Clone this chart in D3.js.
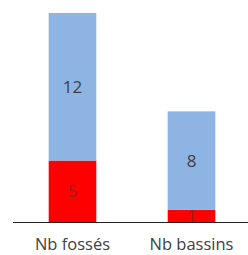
<!DOCTYPE html>
<html>
<head>
<script src="https://d3js.org/d3.v7.min.js"></script>
<style>
  body {margin: 0; background: #fff;}
  svg {display: block;}
  .axis .domain {display: none;}
</style>
</head>
<body>
<svg id="chart" width="248" height="255"></svg>
<script>
// data
var categories = ["Nb fossés", "Nb bassins"];
var redValues = [5, 1];
var blueValues = [12, 8];
var seriesColors = ["#ff0000", "#8eb4e3"];

var svg = d3.select("#chart"),
    margin = {top: 13, right: 0, bottom: 33, left: 13},
    width = +svg.attr("width") - margin.left - margin.right,
    height = +svg.attr("height") - margin.top - margin.bottom,
    g = svg.append("g").attr("transform", "translate(" + margin.left + "," + margin.top + ")");

var data = categories.map(function(c, i) {
  return {cat: c, red: redValues[i], blue: blueValues[i]};
});

var x = d3.scaleBand()
    .domain(categories)
    .range([0, 238])
    .paddingInner(0.6)
    .paddingOuter(0.3);

var y = d3.scaleLinear()
    .domain([0, 17])
    .range([height, 0]);

var stack = d3.stack().keys(["red", "blue"]);
var series = stack(data);

var layer = g.selectAll(".layer")
    .data(series)
    .enter().append("g")
    .attr("class", "layer")
    .attr("fill", function(d, i) { return seriesColors[i]; });

layer.selectAll("rect")
    .data(function(d) { return d; })
    .enter().append("rect")
    .attr("x", function(d) { return x(d.data.cat); })
    .attr("y", function(d) { return y(d[1]); })
    .attr("width", x.bandwidth())
    .attr("height", function(d) { return y(d[0]) - y(d[1]); });

// value labels
layer.each(function(s, si) {
  d3.select(this).selectAll("text")
    .data(s)
    .enter().append("text")
    .attr("x", function(d) { return x(d.data.cat) + x.bandwidth() / 2; })
    .attr("y", function(d) { return (y(d[0]) + y(d[1])) / 2; })
    .attr("dy", "0.36em")
    .attr("text-anchor", "middle")
    .attr("font-family", "Open Sans, sans-serif")
    .attr("font-size", "17px")
    .attr("fill", si === 0 ? "#a01c1c" : "#404040")
    .text(function(d) { return d[1] - d[0]; });
});

// axis
var xAxis = g.append("g")
    .attr("class", "axis")
    .attr("transform", "translate(0," + height + ")")
    .call(d3.axisBottom(x).tickSize(0).tickPadding(16));

xAxis.selectAll("text")
    .attr("font-family", "Open Sans, sans-serif")
    .attr("font-size", "16.5px")
    .attr("fill", "#404040");

g.append("line")
    .attr("x1", 0)
    .attr("x2", width)
    .attr("y1", height + 0.5)
    .attr("y2", height + 0.5)
    .attr("stroke", "#222")
    .attr("stroke-width", 1);
</script>
</body>
</html>
